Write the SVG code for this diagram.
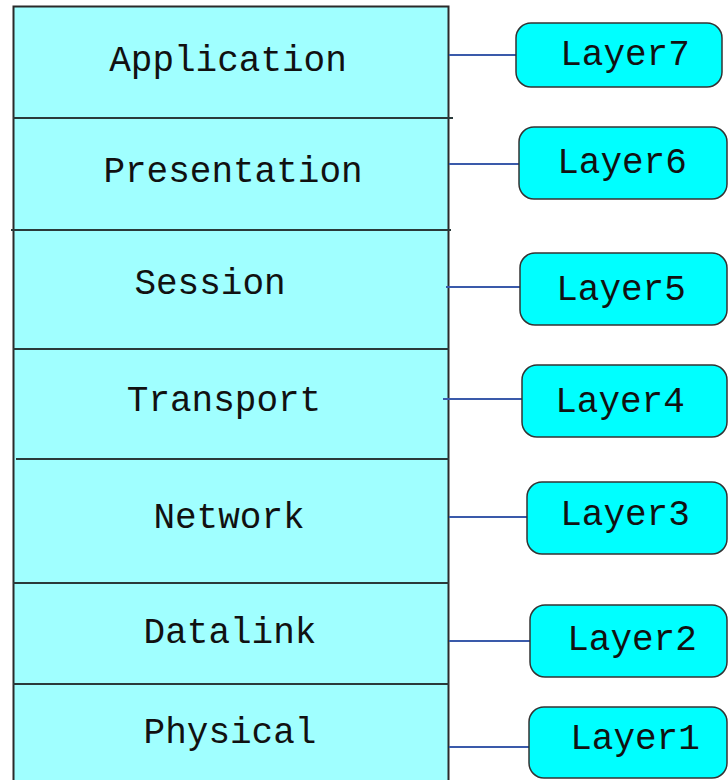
<svg xmlns="http://www.w3.org/2000/svg" width="728" height="780" viewBox="0 0 728 780">
<style>
.stack{fill:#A0FFFF;stroke:#2a2a2a;stroke-width:2}
.div{stroke:#2a3a3a;stroke-width:2}
.lay{fill:#00FFFF;stroke:#333;stroke-width:1.5}
.conn{stroke:#3A5AAA;stroke-width:2}
text{font-family:"Courier New","Liberation Mono",monospace;font-size:36px;fill:#111;text-anchor:middle}
</style>
<rect width="728" height="780" fill="#fff"/>
<g id="stack">
<rect class="stack" x="13.5" y="6.5" width="435" height="790"/>
<line class="div" x1="13" y1="118" x2="453" y2="118"/>
<line class="div" x1="11" y1="230" x2="451" y2="230"/>
<line class="div" x1="13" y1="349" x2="449" y2="349"/>
<line class="div" x1="16" y1="459" x2="449" y2="459"/>
<line class="div" x1="13" y1="583" x2="449" y2="583"/>
<line class="div" x1="13" y1="684" x2="449" y2="684"/>
</g>
<g id="application"><text x="228" y="71">Application</text></g>
<g id="presentation"><text x="233" y="182">Presentation</text></g>
<g id="session"><text x="210" y="294">Session</text></g>
<g id="transport"><text x="224" y="411">Transport</text></g>
<g id="network"><text x="229" y="528">Network</text></g>
<g id="datalink"><text x="230" y="643">Datalink</text></g>
<g id="physical"><text x="230" y="743">Physical</text></g>
<g id="connectors">
<line class="conn" x1="449" y1="55" x2="516" y2="55"/>
<line class="conn" x1="449" y1="164" x2="519" y2="164"/>
<line class="conn" x1="446" y1="287" x2="520" y2="287"/>
<line class="conn" x1="443" y1="399" x2="522" y2="399"/>
<line class="conn" x1="449" y1="517" x2="527" y2="517"/>
<line class="conn" x1="449" y1="641" x2="530" y2="641"/>
<line class="conn" x1="449" y1="747" x2="529" y2="747"/>
</g>
<g id="layer7"><rect class="lay" x="516" y="23" width="206" height="64" rx="15"/><text x="625" y="65">Layer7</text></g>
<g id="layer6"><rect class="lay" x="519" y="127" width="208" height="72" rx="15"/><text x="622" y="173">Layer6</text></g>
<g id="layer5"><rect class="lay" x="520" y="253" width="207" height="72" rx="15"/><text x="621" y="300">Layer5</text></g>
<g id="layer4"><rect class="lay" x="522" y="365" width="205" height="72" rx="15"/><text x="620" y="412">Layer4</text></g>
<g id="layer3"><rect class="lay" x="527" y="482" width="200" height="72" rx="15"/><text x="625" y="525">Layer3</text></g>
<g id="layer2"><rect class="lay" x="530" y="605" width="197" height="72" rx="15"/><text x="632" y="650">Layer2</text></g>
<g id="layer1"><rect class="lay" x="529" y="707" width="198" height="71" rx="15"/><text x="635" y="749">Layer1</text></g>
</svg>
